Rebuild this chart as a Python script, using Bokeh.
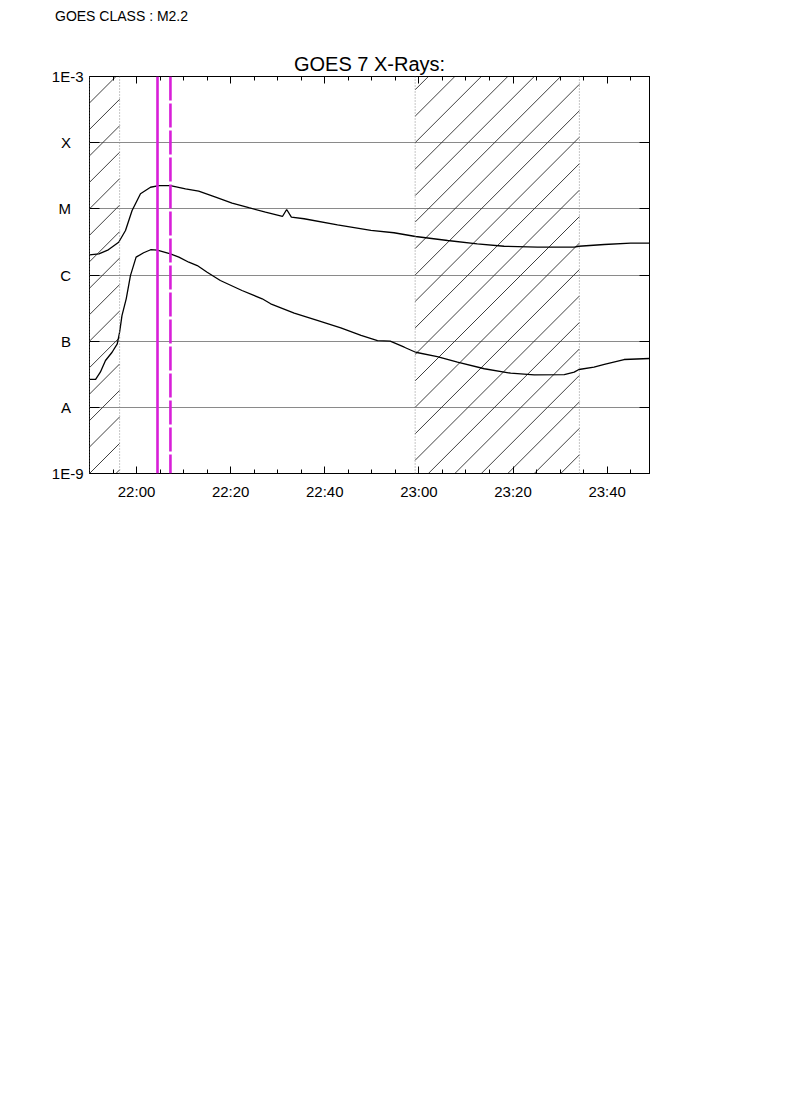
import numpy as np
from bokeh.plotting import figure
from bokeh.layouts import column
from bokeh.models import FixedTicker, LinearAxis, LogAxis, Range1d, Span, Title, Div
from bokeh.embed import file_html
from bokeh.resources import INLINE

# ---------------- data ----------------
title_text = "GOES 7 X-Rays:"
class_text = "GOES CLASS : M2.2"

t_first, t_last = "21:50:00", "23:49:00"

long_times = ["21:50:00", "21:52:00", "21:54:00", "21:56:12", "21:57:39", "21:59:03",
              "22:00:50", "22:02:58", "22:04:44", "22:07:12", "22:10:24", "22:13:12",
              "22:16:48", "22:20:18", "22:23:51", "22:27:24", "22:31:00", "22:31:54",
              "22:32:54", "22:35:36", "22:42:42", "22:49:48", "22:54:42", "22:59:18",
              "23:06:06", "23:12:24", "23:18:06", "23:25:12", "23:33:00", "23:34:00",
              "23:39:24", "23:45:00", "23:48:58"]
long_flux = [2.02e-6, 2.09e-6, 2.40e-6, 3.13e-6, 4.71e-6, 9.45e-6,
             1.69e-5, 2.12e-5, 2.25e-5, 2.25e-5, 2.01e-5, 1.85e-5,
             1.50e-5, 1.22e-5, 1.04e-5, 8.9e-6, 7.66e-6, 9.77e-6,
             7.48e-6, 7.08e-6, 5.74e-6, 4.71e-6, 4.35e-6, 3.82e-6,
             3.32e-6, 2.96e-6, 2.72e-6, 2.63e-6, 2.63e-6, 2.72e-6,
             2.89e-6, 3.03e-6, 3.03e-6]

short_times = ["21:50:00", "21:51:18", "21:52:18", "21:53:24", "21:54:48", "21:55:54",
               "21:56:24", "21:56:54", "21:57:48", "21:58:42", "21:59:54", "22:01:30",
               "22:03:00", "22:04:24", "22:07:12", "22:09:00", "22:11:06", "22:12:54",
               "22:15:00", "22:17:48", "22:22:24", "22:26:42", "22:28:30", "22:33:30",
               "22:38:24", "22:43:24", "22:47:42", "22:51:12", "22:53:54", "22:56:54",
               "22:59:18", "23:03:54", "23:08:12", "23:13:54", "23:19:30", "23:24:30",
               "23:30:54", "23:33:00", "23:34:00", "23:37:12", "23:39:24", "23:43:36",
               "23:48:58"]
short_flux = [2.64e-8, 2.64e-8, 3.40e-8, 5.1e-8, 6.8e-8, 9.1e-8,
              1.37e-7, 2.44e-7, 4.37e-7, 9.8e-7, 1.86e-6, 2.17e-6,
              2.41e-6, 2.37e-6, 2.09e-6, 1.86e-6, 1.56e-6, 1.39e-6,
              1.10e-6, 8.26e-7, 5.83e-7, 4.37e-7, 3.67e-7, 2.65e-7,
              2.06e-7, 1.59e-7, 1.22e-7, 1.02e-7, 1.00e-7, 8.1e-8,
              6.8e-8, 5.86e-8, 4.81e-8, 3.83e-8, 3.28e-8, 3.10e-8,
              3.13e-8, 3.40e-8, 3.73e-8, 4.04e-8, 4.45e-8, 5.28e-8,
              5.47e-8]

# hatched (night / SAA) intervals
hatch_start = ["21:50:00", "22:59:12"]
hatch_end = ["21:56:24", "23:34:06"]
hatch_anchor = [-9.0, -6.0]   # log10 flux where a hatch line meets the left edge

flare_start = "22:04:27"
flare_peak = "22:07:12"

class_ticks = [1e-9, 1e-8, 1e-7, 1e-6, 1e-5, 1e-4, 1e-3]
class_labels = ["1E-9", "A", "B", "C", "M", "X", "1E-3"]
time_tick_labels = ["22:00", "22:20", "22:40", "23:00", "23:20", "23:40"]


def to_min(s):
    parts = s.split(":")
    h, m = int(parts[0]), int(parts[1])
    sec = float(parts[2]) if len(parts) > 2 else 0.0
    return h * 60 + m + sec / 60.0


# ---------------- layout ----------------
FW, FH = 560, 397
BL, BT = 89, 76
HEAD = 30                      # height of the strip that carries the class text
FONT = "Liberation Sans"
W = BL + FW + 20

x0, x1 = to_min(t_first), to_min(t_last)

# header strip with the GOES class (absolutely positioned, does not change the strip height)
head = Div(text=('<div style="position:absolute; left:55px; top:9px; white-space:nowrap; '
                 'font-family:\'Liberation Sans\'; font-size:14px; line-height:14px; '
                 'color:black;">' + class_text + '</div>'),
           width=W, height=HEAD, margin=(0, 0, 0, 0))

p = figure(width=W, height=BT - HEAD + FH + 50,
           frame_width=FW, frame_height=FH,
           min_border_left=BL, min_border_top=BT - HEAD, min_border_right=20,
           min_border_bottom=50,
           x_range=Range1d(x0, x1), y_range=Range1d(1e-9, 1e-3),
           y_axis_type="log", output_backend="svg", toolbar_location=None,
           tools="", title=None)
p.title_location = None
p.outline_line_color = "black"
p.outline_line_width = 1
p.background_fill_color = "white"
p.border_fill_color = "white"

# ---- axes ----
major_t = [to_min(s) for s in time_tick_labels]
minor_t = list(np.arange(x0, x1 + 0.01, 5.0))
xticker = FixedTicker(ticks=major_t, minor_ticks=minor_t)
yticker = FixedTicker(ticks=class_ticks, minor_ticks=[])

pad = "\u00a0" * 3
ylab = {t: (l if l.startswith("1E") else l + pad) for t, l in zip(class_ticks, class_labels)}


def style_x(ax, labels=True):
    ax.ticker = xticker
    ax.major_tick_in = 7
    ax.major_tick_out = 0
    ax.minor_tick_in = 4
    ax.minor_tick_out = 0
    ax.axis_line_color = "black"
    ax.major_tick_line_color = "black"
    ax.minor_tick_line_color = "black"
    ax.major_label_text_font = FONT
    ax.major_label_text_font_size = "15px"
    ax.major_label_text_color = "black"
    ax.major_label_standoff = 9
    if labels:
        ax.major_label_overrides = {t: l for t, l in zip(major_t, time_tick_labels)}
    else:
        ax.major_label_overrides = {t: "" for t in major_t}
        ax.major_label_standoff = 0


def style_y(ax, labels=True):
    ax.ticker = yticker
    ax.major_tick_in = 10
    ax.major_tick_out = 0
    ax.minor_tick_line_color = None
    ax.axis_line_color = "black"
    ax.major_tick_line_color = "black"
    ax.major_label_text_font = FONT
    ax.major_label_text_font_size = "15px"
    ax.major_label_text_color = "black"
    ax.major_label_standoff = 6
    if labels:
        ax.major_label_overrides = ylab
    else:
        ax.major_label_overrides = {t: "" for t in class_ticks}
        ax.major_label_standoff = 0


style_x(p.xaxis[0])
style_y(p.yaxis[0])
top_ax = LinearAxis()
style_x(top_ax, labels=False)
p.add_layout(top_ax, "above")
right_ax = LogAxis()
style_y(right_ax, labels=False)
p.add_layout(right_ax, "right")

# ---- title ----
p.add_layout(Title(text=title_text, align="center", text_font=FONT, text_font_size="20px",
                   text_font_style="normal", text_color="black", standoff=4),
             "above")

p.xgrid.grid_line_color = None
p.ygrid.ticker = yticker
p.ygrid.grid_line_color = "#8a8a8a"
p.ygrid.grid_line_width = 1

# ---- hatched intervals ----
min_per_decade = (FH / 6.0) / (FW / (x1 - x0))   # 45 degree lines on screen
spacing = 0.4                                       # decades between hatch lines
hx0, hy0, hx1, hy1 = [], [], [], []
for s, e, a0 in zip(hatch_start, hatch_end, hatch_anchor):
    tl, tr = to_min(s), to_min(e)
    width_dec = (tr - tl) / min_per_decade
    n_lo = int(np.floor((-9.0 - width_dec - a0) / spacing)) - 1
    n_hi = int(np.ceil((-3.0 - a0) / spacing)) + 1
    for n in range(n_lo, n_hi + 1):
        a = a0 + n * spacing
        ts = max(tl, tl + (-9.0 - a) * min_per_decade)
        te = min(tr, tl + (-3.0 - a) * min_per_decade)
        if te - ts > 1e-6:
            hx0.append(ts)
            hx1.append(te)
            hy0.append(10 ** (a + (ts - tl) / min_per_decade))
            hy1.append(10 ** (a + (te - tl) / min_per_decade))
p.segment(hx0, hy0, hx1, hy1, line_color="#2a2a2a", line_width=0.9)

for s in hatch_start + hatch_end:
    p.add_layout(Span(location=to_min(s), dimension="height", line_color="#8c8c8c",
                      line_width=1, line_dash="1 2"))

# ---- flare markers ----
p.add_layout(Span(location=to_min(flare_start), dimension="height",
                  line_color="#d81ed8", line_width=2.6))
p.add_layout(Span(location=to_min(flare_peak), dimension="height",
                  line_color="#d81ed8", line_width=2.6, line_dash="24 3"))

# ---- curves ----
p.line([to_min(t) for t in long_times], long_flux, line_color="black", line_width=1.3)
p.line([to_min(t) for t in short_times], short_flux, line_color="black", line_width=1.3)

layout = column(head, p, spacing=0)
open("out.html", "w").write(file_html(layout, INLINE))
